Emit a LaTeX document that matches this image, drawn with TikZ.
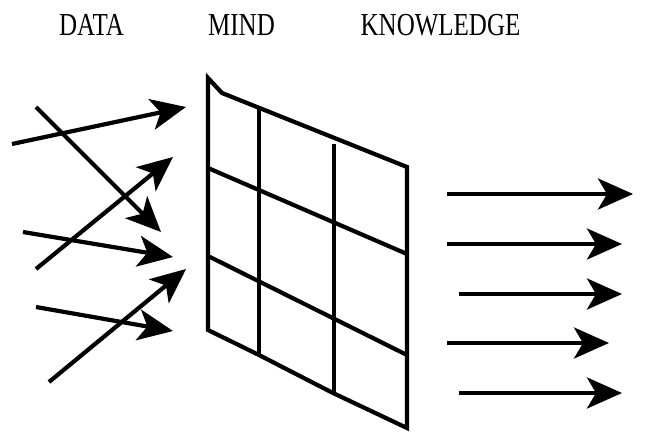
\documentclass[tikz,border=0pt]{standalone}
\usepackage{fontspec}
\setmainfont{Liberation Serif}
\usetikzlibrary{arrows.meta}
\begin{document}
\begin{tikzpicture}[x=1pt,y=-1pt,
  lbl/.style={anchor=base,inner sep=0pt,font=\fontsize{25}{28}\selectfont},
  arr/.style={line width=4.2pt,-{Stealth[length=35pt,width=31pt,inset=9pt]}},
  gridline/.style={line width=4.2pt,line join=miter}]
\useasboundingbox (0,0) rectangle (660,431);
% titles
\node[lbl] (data) at (91.5,35) {\scalebox{1}[1.28]{DATA}};
\node[lbl] (mind) at (241.5,35) {\scalebox{1}[1.28]{MIND}};
\node[lbl] (know) at (440.5,35) {\scalebox{1}[1.28]{KNOWLEDGE}};
% grid frame
\draw[gridline] (222,93) -- (208,78) -- (208,330) -- (259,355) -- (333,393) -- (407,428) -- (407,167) -- cycle;
\draw[gridline] (259,108) -- (259,355);
\draw[gridline] (334,144) -- (334,393);
\draw[gridline] (208,168) -- (407,254);
\draw[gridline] (208,256) -- (407,355);
% left arrows
\coordinate (a1) at (12,144);  \coordinate (b1) at (186,107);
\coordinate (a2) at (36,107);  \coordinate (b2) at (161,232);
\coordinate (a3) at (36,269);  \coordinate (b3) at (173,157);
\coordinate (a4) at (23,232);  \coordinate (b4) at (173,257);
\coordinate (a5) at (49,382);  \coordinate (b5) at (186,269);
\coordinate (a6) at (36,307);  \coordinate (b6) at (173,331);
\foreach \i in {1,...,6} \draw[arr] (a\i) -- (b\i);
% right arrows
\coordinate (c1) at (447,194); \coordinate (d1) at (633,194);
\coordinate (c2) at (447,244); \coordinate (d2) at (622,244);
\coordinate (c3) at (459,294); \coordinate (d3) at (622,294);
\coordinate (c4) at (447,343); \coordinate (d4) at (609,343);
\coordinate (c5) at (459,393); \coordinate (d5) at (622,393);
\foreach \i in {1,...,5} \draw[arr] (c\i) -- (d\i);
\end{tikzpicture}
\end{document}
